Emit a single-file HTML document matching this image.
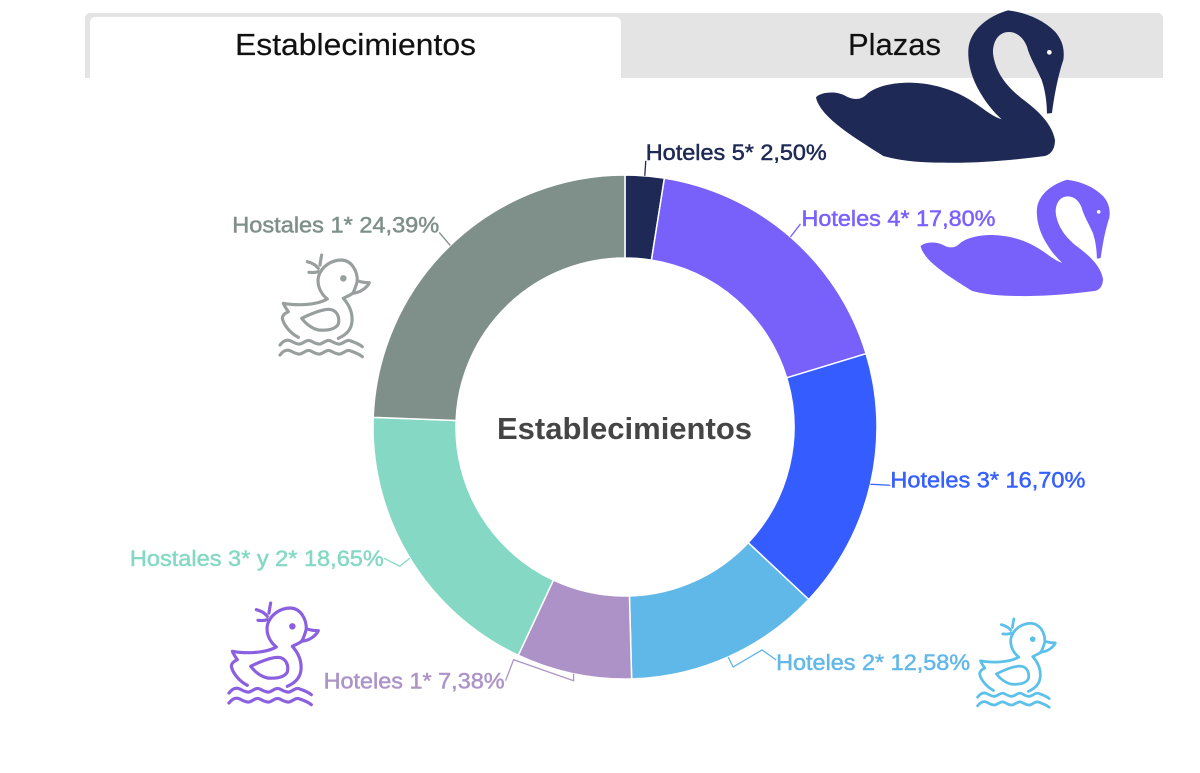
<!DOCTYPE html>
<html lang="es">
<head>
<meta charset="utf-8">
<title>Establecimientos</title>
<style>
html,body{margin:0;padding:0;background:#fff;width:1200px;height:773px;overflow:hidden}
svg{display:block;font-family:"Liberation Sans",Arial,sans-serif}
</style>
</head>
<body>
<svg id="chart" width="1200" height="773" viewBox="0 0 1200 773">
  <defs>
    <path id="swan-shape" d="M108 292C118 278 165 270 195 287C215 299 240 302 258 285C285 258 340 248 390 248C470 250 540 275 600 320C625 338 645 352 665 358C640 335 620 310 605 285C580 245 563 200 565 150C568 90 625 48 684 31C740 38 790 60 825 95C845 118 855 145 850 180C838 215 825 270 816 339L801 341C800 300 795 270 785 240C770 205 748 170 741 140C730 112 710 96 687 96C655 96 638 125 639 160C645 215 680 260 725 295C775 332 815 370 825 420C825 445 815 462 795 468C700 480 600 490 490 488C420 488 360 482 310 468C250 430 175 385 135 340C120 322 110 305 108 292Z"/>
    <g id="duck-shape" fill="none" stroke-width="9.5" stroke-linecap="round" stroke-linejoin="round">
      <path d="M40 160C70 166 135 168 172 147C148 128 140 100 146 78C156 48 185 30 215 30C245 32 262 62 262 93C258 108 254 120 248 130C238 137 228 141 220 145C238 165 248 190 246 215C244 240 228 255 205 265M40 160C44 170 50 178 55 185C44 190 37 197 37 205C40 222 58 248 85 262"/>
      <path d="M262 92C275 97 287 98 298 98C292 112 272 128 248 130"/>
      <path d="M95 205C120 192 155 178 178 178C200 180 210 200 205 222C195 240 170 242 145 240C125 235 108 222 95 205Z"/>
      <path d="M155 15C153 25 151 36 150 45M112 35C125 38 138 46 145 55M117 67C127 68 137 68 145 65"/>
      <circle cx="220" cy="85" r="5"/>
      <path d="M30 285C40 272 50 268 60 272S80 284 90 282S110 268 120 272S140 284 150 282S170 268 180 272S200 284 210 282S230 268 240 272S265 280 277 290"/>
      <path d="M30 315C40 302 50 298 60 302S80 314 90 312S110 298 120 302S140 314 150 312S170 298 180 302S200 314 210 312S230 298 240 302S265 310 277 320"/>
    </g>
  </defs>

  <g>
    <path d="M85 78V18a5 5 0 0 1 5-5H1158a5 5 0 0 1 5 5V78Z" fill="#e4e4e4"/>
    <path d="M90 78V22a5 5 0 0 1 5-5H616a5 5 0 0 1 5 5V78Z" fill="#fff"/>
    <text x="355.5" y="55" text-anchor="middle" font-size="31" textLength="241" lengthAdjust="spacingAndGlyphs" fill="#111" stroke="#111" stroke-width="0.2">Establecimientos</text>
    <text x="894.5" y="55" text-anchor="middle" font-size="31" textLength="93" lengthAdjust="spacingAndGlyphs" fill="#111" stroke="#111" stroke-width="0.2">Plazas</text>
  </g>
  <g id="slices"></g>
  <g id="leaders"></g>
  <g id="labels"></g>
  <text x="624.5" y="439" text-anchor="middle" font-size="31" font-weight="bold" textLength="255" lengthAdjust="spacingAndGlyphs" fill="#454545">Establecimientos</text>

  <g transform="translate(780,0) scale(.33333)">
    <use href="#swan-shape" fill="#1e2a55"/>
    <circle cx="808" cy="157" r="7" fill="#fff"/>
  </g>
  <g transform="translate(893.2,171.9) scale(.2543)">
    <use href="#swan-shape" fill="#7860fb"/>
    <circle cx="808" cy="157" r="7" fill="#fff"/>
  </g>

  <g transform="translate(270,250) scale(.33333)" stroke="#999f9e"><use href="#duck-shape"/></g>
  <g transform="translate(219,598) scale(.33333)" stroke="#8a5fe0"><use href="#duck-shape"/></g>
  <g transform="translate(968.9,614.5) scale(.29)" stroke="#5cc0e8"><use href="#duck-shape"/></g>
</svg>
<script>
const categories = ["Hoteles 5*", "Hoteles 4*", "Hoteles 3*", "Hoteles 2*", "Hoteles 1*", "Hostales 3* y 2*", "Hostales 1*"];
const values = [2.50, 17.80, 16.70, 12.58, 7.38, 18.65, 24.39];
const sliceColors = ["#1e2a55", "#7860fb", "#345cff", "#60b8e8", "#ad92c8", "#85d9c4", "#7f8f8a"];
const labelColors = ["#1e2a55", "#7b61ff", "#3660ff", "#62b8e8", "#ad94c8", "#85d9c4", "#7f8f8a"];

(function () {
  const NS = "http://www.w3.org/2000/svg";
  const cx = 625, cy = 427, outerR = 252, innerR = 169;
  const total = values.reduce(function (a, b) { return a + b; }, 0);
  const angleOf = function (v) { return v / total * Math.PI * 2; };
  const px = function (r, a) { return cx + r * Math.sin(a); };
  const py = function (r, a) { return cy - r * Math.cos(a); };

  /* leader bends and label placement, relative to each slice's rim midpoint */
  const leaderBends = [
    [[1, -15]],
    [[10, -13]],
    [[20, 1]],
    [[5, 10], [34, -7], [48, 3]],
    [[0, 7], [-60, -14], [-68, 7]],
    [[-10, 8], [-26, 0]],
    [[-11, -13]]
  ];
  const labelShift = [[1, -24], [11, -19], [20, -5], [48, 5], [-69, 7], [-26, 0], [-11, -21]];
  const labelWidths = [181, 194, 195, 194, 181, 254, 207];
  const labelAnchors = ["start", "start", "start", "start", "end", "end", "end"];

  const slicesG = document.getElementById("slices");
  const leadersG = document.getElementById("leaders");
  const labelsG = document.getElementById("labels");

  let start = 0;
  values.forEach(function (v, i) {
    const sweep = angleOf(v);
    const end = start + sweep;
    const mid = start + sweep / 2;
    const large = sweep > Math.PI ? 1 : 0;

    const slice = document.createElementNS(NS, "path");
    slice.setAttribute("d",
      "M" + px(outerR, start) + " " + py(outerR, start) +
      "A" + outerR + " " + outerR + " 0 " + large + " 1 " + px(outerR, end) + " " + py(outerR, end) +
      "L" + px(innerR, end) + " " + py(innerR, end) +
      "A" + innerR + " " + innerR + " 0 " + large + " 0 " + px(innerR, start) + " " + py(innerR, start) + "Z");
    slice.setAttribute("fill", sliceColors[i]);
    slice.setAttribute("stroke", "#fff");
    slice.setAttribute("stroke-width", "1.5");
    
    
    slicesG.appendChild(slice);

    const ax = px(outerR, mid), ay = py(outerR, mid);
    const pts = [[ax, ay]].concat(leaderBends[i].map(function (b) { return [ax + b[0], ay + b[1]]; }));
    const leader = document.createElementNS(NS, "polyline");
    leader.setAttribute("points", pts.map(function (p) { return p.join(","); }).join(" "));
    leader.setAttribute("fill", "none");
    leader.setAttribute("stroke", labelColors[i]);
    leader.setAttribute("stroke-width", "1.3");
    
    
    leadersG.appendChild(leader);

    const label = document.createElementNS(NS, "text");
    label.setAttribute("x", ax + labelShift[i][0]);
    label.setAttribute("y", ay + labelShift[i][1] + 8);
    label.setAttribute("font-size", "22");
    label.setAttribute("fill", labelColors[i]);
    label.setAttribute("stroke", labelColors[i]);
    label.setAttribute("stroke-width", "0.5");
    label.setAttribute("text-anchor", labelAnchors[i]);
    label.setAttribute("textLength", labelWidths[i]);
    label.setAttribute("lengthAdjust", "spacingAndGlyphs");
    
    
    label.textContent = categories[i] + " " + v.toFixed(2).replace(".", ",") + "%";
    labelsG.appendChild(label);

    start = end;
  });
})();
</script>
</body>
</html>
